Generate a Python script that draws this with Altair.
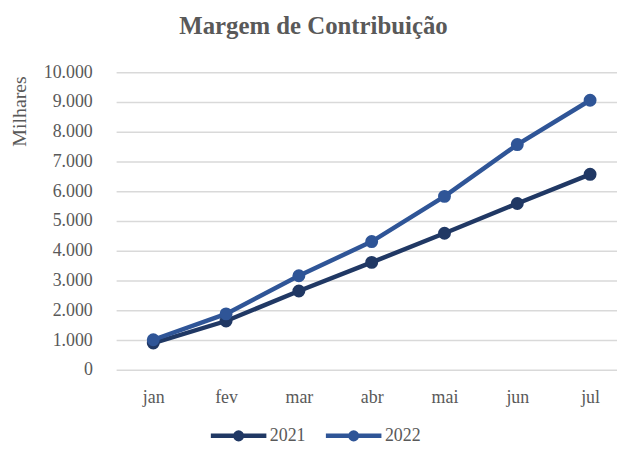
import altair as alt
import pandas as pd

months = ["jan", "fev", "mar", "abr", "mai", "jun", "jul"]
v2021 = [900, 1640, 2650, 3610, 4590, 5590, 6570]
v2022 = [1010, 1880, 3160, 4310, 5830, 7570, 9060]
series = ["2021", "2022"]
colors = ["#203864", "#2F5597"]
yticks = [0, 1000, 2000, 3000, 4000, 5000, 6000, 7000, 8000, 9000, 10000]

df = pd.DataFrame({
    "mes": months * 2,
    "valor": v2021 + v2022,
    "ano": [series[0]] * len(months) + [series[1]] * len(months),
})

font = "Liberation Serif"
txt = "#595959"
sym = "M-1,0H1M0.12,0A0.12,0.12 0 1 1 -0.12,0A0.12,0.12 0 1 1 0.12,0Z"

x = alt.X("mes:N", sort=months, title=None,
          scale=alt.Scale(type="point", padding=0.44, align=0.58),
          axis=alt.Axis(labelAngle=0, domain=False, ticks=False, grid=False,
                        labelFont=font, labelFontSize=18, labelColor=txt,
                        labelPadding=19))
y = alt.Y("valor:Q", title="Milhares",
          scale=alt.Scale(domain=[0, 10000], nice=False),
          axis=alt.Axis(values=yticks, domain=False, ticks=False,
                        gridColor="#d9d9d9", gridWidth=1.5,
                        labelExpr="replace(format(datum.value, ','), ',', '.')",
                        labelFont=font, labelFontSize=18, labelColor=txt,
                        labelPadding=24,
                        titleFont=font, titleFontSize=20, titleFontWeight="normal",
                        titleColor=txt, titleAngle=270, titleX=-97, titleY=39,
                        titleAlign="center", titleBaseline="middle"))

leg = alt.Legend(orient="none", legendX=93, legendY=336,
                 direction="horizontal", title=None,
                 symbolType=sym, symbolSize=3136, symbolStrokeWidth=4.5,
                 labelFont=font, labelFontSize=18, labelColor=txt,
                 labelOffset=1, columnPadding=11)

lines = alt.Chart(df).mark_line(strokeWidth=4.5).encode(
    x=x, y=y,
    stroke=alt.Stroke("ano:N", scale=alt.Scale(domain=series, range=colors), legend=leg),
)
points = alt.Chart(df).mark_point(filled=True, size=170, opacity=1, strokeWidth=0).encode(
    x=x, y=y,
    fill=alt.Fill("ano:N", scale=alt.Scale(domain=series, range=colors), legend=leg),
)

chart = alt.layer(lines, points).properties(
    width=505, height=300,
    autosize=alt.AutoSizeParams(type="none"),
    padding={"left": 109, "top": 63, "right": 0, "bottom": 73},
    title=alt.TitleParams("Margem de Contribuição", font=font, fontSize=25,
                          fontWeight="bold", color=txt, anchor="middle",
                          frame="bounds", offset=25),
).configure_view(stroke=None)

chart.save("out.html", embed_options={"renderer": "svg", "actions": False})
